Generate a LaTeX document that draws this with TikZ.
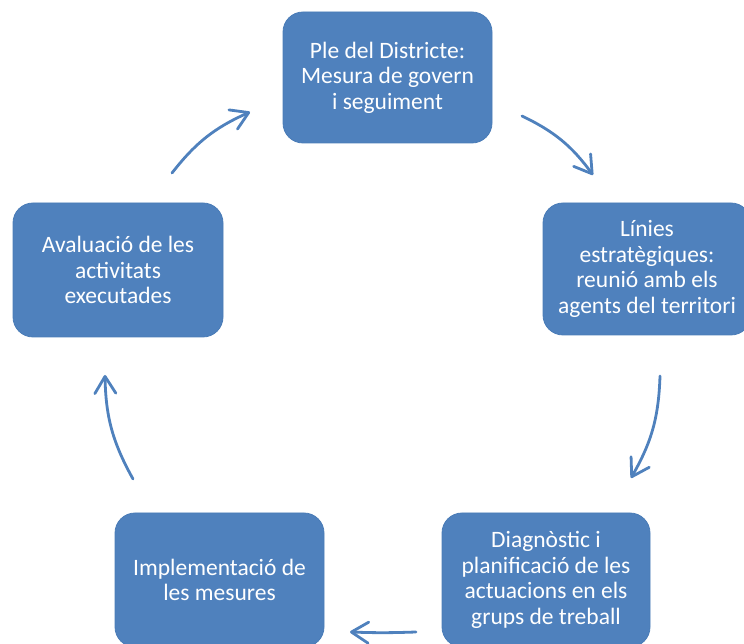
\documentclass[tikz,border=0pt]{standalone}
\usepackage{fontspec}
\setmainfont{Carlito}
\usetikzlibrary{arrows.meta}
\definecolor{boxblue}{HTML}{4F81BD}
\definecolor{boxedge}{HTML}{4A7CB7}
\tikzset{
  stagebox/.style={rounded corners=20pt, fill=boxblue, draw=boxedge, line width=0.8pt,
    text=white, align=center, inner sep=0pt,
    font=\fontsize{23.5}{25.5}\selectfont},
  cyclearrow/.style={draw=boxblue, line width=2.8pt, line cap=round,
    -{Straight Barb[length=17pt,width=21pt,line cap=round,line join=round]}}
}
\begin{document}
\begin{tikzpicture}[x=1pt,y=1pt]
\useasboundingbox (0,0) rectangle (744,644);
\clip (0,0) rectangle (744,644);
\node[stagebox, minimum width=209pt, minimum height=131pt] (b1) at (387.5,566.5)
  {Ple del Districte:\\Mesura de govern\\i seguiment};
\node[stagebox, minimum width=208pt, minimum height=132pt] (b2) at (647,375)
  {Línies\\estratègiques:\\reunió amb els\\agents del territori};
\node[stagebox, minimum width=208pt, minimum height=134pt] (b3) at (546,64)
  {Diagnòstic i\\planificació de les\\actuacions en els\\grups de treball};
\node[stagebox, minimum width=209pt, minimum height=134pt] (b4) at (219.5,64)
  {Implementació de\\les mesures};
\node[stagebox, minimum width=210pt, minimum height=134pt] (b5) at (118,374)
  {Avaluació de les\\activitats\\executades};
\coordinate (a1s) at (172,471);
\coordinate (a1e) at (250,532);
\coordinate (a2s) at (522,528);
\coordinate (a2e) at (593,469);
\coordinate (a3s) at (660,268);
\coordinate (a3e) at (631,166);
\coordinate (a4s) at (416,12);
\coordinate (a4e) at (350,12);
\coordinate (a5s) at (133,165);
\coordinate (a5e) at (105,269);
\draw[cyclearrow] (a1s) to[bend left=14] (a1e);
\draw[cyclearrow] (a2s) to[bend left=14] (a2e);
\draw[cyclearrow] (a3s) to[bend left=14] (a3e);
\draw[cyclearrow] (a4s) to[bend left=2] (a4e);
\draw[cyclearrow] (a5s) to[bend left=14] (a5e);
\end{tikzpicture}
\end{document}
